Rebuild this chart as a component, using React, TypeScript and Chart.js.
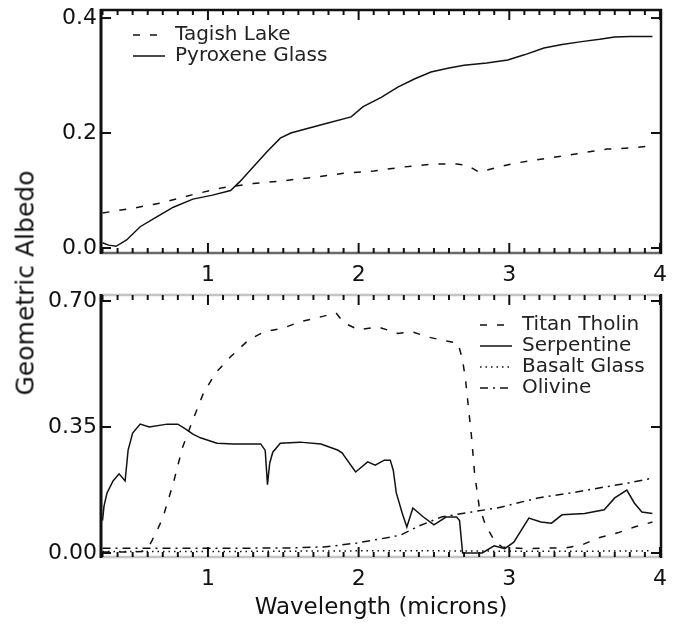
import React, { useEffect, useRef } from 'react';
import { Chart, registerables } from 'chart.js';

Chart.register(...registerables);

// ---------- data ----------
const xTickValues = [1, 2, 3, 4];
const xTickLabels = ['1', '2', '3', '4'];

const topYTicks = [0, 0.2, 0.4];
const topYLabels = ['0.0', '0.2', '0.4'];
const bottomYTicks = [0, 0.35, 0.7];
const bottomYLabels = ['0.00', '0.35', '0.70'];

// top panel
const tagishWl = [0.3, 0.5, 0.7, 0.9, 1.1, 1.3, 1.5, 1.7, 1.9, 2.1, 2.3, 2.5, 2.65, 2.72, 2.8, 2.93, 3.05, 3.25, 3.45, 3.65, 3.8, 3.92];
const tagishAlb = [0.061, 0.069, 0.079, 0.093, 0.105, 0.112, 0.117, 0.123, 0.13, 0.134, 0.141, 0.146, 0.146, 0.144, 0.132, 0.141, 0.148, 0.156, 0.164, 0.172, 0.174, 0.177];

const pyroxeneWl = [0.3, 0.34, 0.39, 0.46, 0.55, 0.66, 0.77, 0.9, 1.03, 1.15, 1.21, 1.3, 1.39, 1.48, 1.55, 1.66, 1.79, 1.95, 2.03, 2.15, 2.26, 2.37, 2.48, 2.6, 2.7, 2.85, 2.99, 3.1, 3.23, 3.35, 3.48, 3.6, 3.7, 3.8, 3.95];
const pyroxeneAlb = [0.009, 0.005, 0.003, 0.014, 0.037, 0.054, 0.071, 0.085, 0.092, 0.1, 0.115, 0.141, 0.167, 0.191, 0.2, 0.208, 0.217, 0.228, 0.246, 0.262, 0.28, 0.294, 0.306, 0.313, 0.318, 0.322, 0.327, 0.336, 0.348, 0.354, 0.359, 0.363, 0.367, 0.368, 0.368];

// bottom panel
const tholinWl = [0.3, 0.45, 0.56, 0.6, 0.63, 0.67, 0.7, 0.77, 0.83, 0.9, 0.97, 1.05, 1.15, 1.27, 1.37, 1.5, 1.61, 1.75, 1.85, 1.9, 2.0, 2.13, 2.26, 2.36, 2.46, 2.57, 2.66, 2.69, 2.71, 2.73, 2.75, 2.77, 2.8, 2.84, 2.9, 2.95, 3.1, 3.26, 3.37, 3.48, 3.59, 3.72, 3.83, 3.95];
const tholinAlb = [0.003, 0.003, 0.004, 0.012, 0.036, 0.07, 0.097, 0.194, 0.292, 0.37, 0.444, 0.5, 0.545, 0.592, 0.614, 0.625, 0.642, 0.656, 0.667, 0.64, 0.62, 0.628, 0.61, 0.614, 0.6, 0.59, 0.583, 0.536, 0.48, 0.4, 0.32, 0.22, 0.13, 0.08, 0.035, 0.017, 0.012, 0.014, 0.014, 0.022, 0.042, 0.056, 0.072, 0.086];

const serpentineWl = [0.3, 0.31, 0.33, 0.37, 0.41, 0.45, 0.47, 0.5, 0.55, 0.61, 0.73, 0.8, 0.85, 0.9, 0.95, 1.06, 1.17, 1.35, 1.38, 1.395, 1.41, 1.43, 1.48, 1.61, 1.75, 1.86, 1.89, 1.98, 2.06, 2.11, 2.17, 2.21, 2.23, 2.25, 2.29, 2.32, 2.36, 2.43, 2.5, 2.58, 2.65, 2.67, 2.69, 2.82, 2.9, 2.97, 3.03, 3.13, 3.21, 3.28, 3.35, 3.5, 3.63, 3.7, 3.78, 3.83, 3.88, 3.95];
const serpentineAlb = [0.09, 0.13, 0.167, 0.2, 0.22, 0.2, 0.286, 0.333, 0.358, 0.35, 0.358, 0.358, 0.345, 0.33, 0.32, 0.305, 0.303, 0.303, 0.285, 0.19, 0.25, 0.28, 0.305, 0.308, 0.303, 0.286, 0.278, 0.225, 0.253, 0.244, 0.258, 0.258, 0.23, 0.167, 0.11, 0.072, 0.125, 0.1, 0.078, 0.1, 0.1, 0.09, 0.0, 0.0, 0.02, 0.012, 0.03, 0.097, 0.086, 0.083, 0.106, 0.11, 0.12, 0.153, 0.175, 0.139, 0.114, 0.11];

const basaltWl = [0.3, 1.0, 1.5, 2.0, 2.5, 3.0, 3.5, 3.95];
const basaltAlb = [0.004, 0.004, 0.005, 0.006, 0.006, 0.005, 0.005, 0.006];

const olivineWl = [0.3, 1.0, 1.55, 1.77, 1.88, 1.99, 2.1, 2.21, 2.28, 2.4, 2.55, 2.75, 2.92, 3.0, 3.19, 3.41, 3.63, 3.8, 3.95];
const olivineAlb = [0.013, 0.013, 0.014, 0.017, 0.022, 0.028, 0.036, 0.044, 0.05, 0.075, 0.1, 0.114, 0.125, 0.133, 0.153, 0.167, 0.183, 0.195, 0.208];

// ---------- styling ----------
const FONT = 'DejaVu Sans';
const INK = '#111';
const X_MIN = 0.29;
const X_MAX = 4.007;
const DASHED = [7, 10];
const DOTTED = [1.5, 4];
const DASHDOT = [8, 5, 2, 5];

const pts = (xs: number[], ys: number[]) => xs.map((x, i) => ({ x, y: ys[i] }));

const ds = (label: string, xs: number[], ys: number[], dash: number[]) => ({
  label,
  data: pts(xs, ys),
  borderColor: INK,
  backgroundColor: 'rgba(0,0,0,0)',
  borderWidth: 1.5,
  borderDash: dash,
  pointRadius: 0,
  pointHoverRadius: 0,
  fill: false,
  tension: 0,
});

type Frame = { top: string; bottom: string; left: string; right: string };

const framePlugin = (frame: Frame) => ({
  id: 'idlFrame',
  beforeDatasetsDraw(chart: any) {
    const { ctx, chartArea: a, scales } = chart;
    const xs = scales.x;
    const ys = scales.y;
    const seg = (x1: number, y1: number, x2: number, y2: number, color: string, w: number) => {
      ctx.beginPath();
      ctx.strokeStyle = color;
      ctx.lineWidth = w;
      ctx.moveTo(x1, y1);
      ctx.lineTo(x2, y2);
      ctx.stroke();
    };
    ctx.save();
    ctx.setLineDash([]);
    seg(a.left - 1, a.top, a.right + 1, a.top, frame.top, 2.5);
    seg(a.left - 1, a.bottom, a.right + 1, a.bottom, frame.bottom, 2.5);
    seg(a.left, a.top - 1, a.left, a.bottom + 1, frame.left, 3);
    seg(a.right, a.top - 1, a.right, a.bottom + 1, frame.right, 2.5);
    // x ticks: minor every 0.1, major at integers (pointing inward)
    for (let i = 3; i <= 40; i++) {
      const px = xs.getPixelForValue(i / 10);
      const major = i % 10 === 0;
      const len = major ? 10 : 5;
      const w = major ? 2 : 2;
      seg(px, a.top, px, a.top + len, INK, w);
      seg(px, a.bottom, px, a.bottom - len, INK, w);
    }
    // y ticks (major only)
    ys.ticks.forEach((t: any) => {
      const py = ys.getPixelForValue(t.value);
      seg(a.left, py, a.left + 10, py, INK, 2);
      seg(a.right, py, a.right - 10, py, INK, 2);
    });
    ctx.restore();
  },
});

const legendPosPlugin = (lx: number, ly: number) => ({
  id: 'legendPos',
  beforeDraw(chart: any) {
    const lg = chart.legend;
    if (lg) {
      lg.left = lx - 1;
      lg.top = ly - 1;
      lg.right = chart.width;
      lg.bottom = chart.height;
    }
  },
});

type PanelOpts = {
  datasets: any[];
  yMin: number;
  yMax: number;
  yTicks: number[];
  yLabels: string[];
  padTop: number;
  xAxisHeight: number;
  frame: Frame;
  legendX: number;
  legendY: number;
  xTitle?: string;
};

function panelConfig(p: PanelOpts): any {
  return {
    type: 'line',
    data: { datasets: p.datasets },
    options: {
      responsive: false,
      animation: false,
      devicePixelRatio: 1,
      events: [],
      layout: { padding: { left: 0, right: 17, top: p.padTop, bottom: 0 } },
      scales: {
        x: {
          type: 'linear',
          min: X_MIN,
          max: X_MAX,
          afterBuildTicks: (s: any) => {
            s.ticks = xTickValues.map((v) => ({ value: v }));
          },
          ticks: {
            callback: (_v: any, i: number) => xTickLabels[i],
            font: { family: FONT, size: 22 },
            color: INK,
            padding: 9,
            maxRotation: 0,
            autoSkip: false,
          },
          grid: { display: false, drawTicks: false },
          border: { display: false },
          title: p.xTitle
            ? {
                display: true,
                text: p.xTitle,
                font: { family: FONT, size: 23 },
                color: INK,
                padding: { top: 0, bottom: 6 },
              }
            : { display: false },
          afterFit: (s: any) => {
            s.height = p.xAxisHeight;
            s.paddingLeft = 0;
            s.paddingRight = 0;
          },
        },
        y: {
          type: 'linear',
          min: p.yMin,
          max: p.yMax,
          afterBuildTicks: (s: any) => {
            s.ticks = p.yTicks.map((v) => ({ value: v }));
          },
          ticks: {
            callback: (_v: any, i: number) => p.yLabels[i],
            font: { family: FONT, size: 22 },
            color: INK,
            padding: 4,
          },
          grid: { display: false, drawTicks: false },
          border: { display: false },
          afterFit: (s: any) => {
            s.width = 101;
            s.paddingTop = 0;
            s.paddingBottom = 0;
          },
        },
      },
      plugins: {
        tooltip: { enabled: false },
        legend: {
          display: true,
          position: 'chartArea',
          align: 'start',
          labels: {
            usePointStyle: true,
            pointStyle: 'line',
            pointStyleWidth: 32,
            padding: 1,
            color: '#222',
            font: { family: FONT, size: 20 },
            generateLabels: (chart: any) =>
              Chart.defaults.plugins.legend.labels.generateLabels(chart).map((item: any) => ({
                ...item,
                lineDash: chart.data.datasets[item.datasetIndex].borderDash || [],
                lineWidth: 1.5,
                strokeStyle: INK,
                fillStyle: 'rgba(0,0,0,0)',
              })),
          },
        },
      },
    },
    plugins: [framePlugin(p.frame), legendPosPlugin(p.legendX, p.legendY)],
  };
}

export default function App() {
  const topRef = useRef<HTMLCanvasElement>(null);
  const botRef = useRef<HTMLCanvasElement>(null);

  useEffect(() => {
    Chart.defaults.font.family = FONT;
    const top = new Chart(
      topRef.current as HTMLCanvasElement,
      panelConfig({
        datasets: [
          ds('Tagish Lake', tagishWl, tagishAlb, DASHED),
          ds('Pyroxene Glass', pyroxeneWl, pyroxeneAlb, []),
        ],
        yMin: -0.0087,
        yMax: 0.414,
        yTicks: topYTicks,
        yLabels: topYLabels,
        padTop: 10,
        xAxisHeight: 37,
        frame: { top: '#111', bottom: '#6a6a6a', left: '#111', right: '#111' },
        legendX: 133,
        legendY: 25,
      })
    );
    const bottom = new Chart(
      botRef.current as HTMLCanvasElement,
      panelConfig({
        datasets: [
          ds('Titan Tholin', tholinWl, tholinAlb, DASHED),
          ds('Serpentine', serpentineWl, serpentineAlb, []),
          ds('Basalt Glass', basaltWl, basaltAlb, DOTTED),
          ds('Olivine', olivineWl, olivineAlb, DASHDOT),
        ],
        yMin: -0.0111,
        yMax: 0.7167,
        yTicks: bottomYTicks,
        yLabels: bottomYLabels,
        padTop: 5,
        xAxisHeight: 71,
        frame: { top: '#c4c4c4', bottom: '#c4c4c4', left: '#111', right: '#111' },
        legendX: 480,
        legendY: 25,
        xTitle: 'Wavelength (microns)',
      })
    );
    return () => {
      top.destroy();
      bottom.destroy();
    };
  }, []);

  return (
    <div
      style={{
        position: 'absolute',
        left: 0,
        top: 0,
        width: 678,
        height: 628,
        background: '#fff',
        overflow: 'hidden',
      }}
    >
      <canvas
        ref={topRef}
        width={678}
        height={290}
        style={{ position: 'absolute', left: 0, top: 0, width: 678, height: 290 }}
      />
      <canvas
        ref={botRef}
        width={678}
        height={338}
        style={{ position: 'absolute', left: 0, top: 290, width: 678, height: 338 }}
      />
      <div
        style={{
          position: 'absolute',
          left: 25,
          top: 283,
          transform: 'translate(-50%, -50%) rotate(-90deg)',
          whiteSpace: 'nowrap',
          fontFamily: FONT,
          fontSize: 25,
          lineHeight: 1,
          color: INK,
        }}
      >
        Geometric Albedo
      </div>
    </div>
  );
}
